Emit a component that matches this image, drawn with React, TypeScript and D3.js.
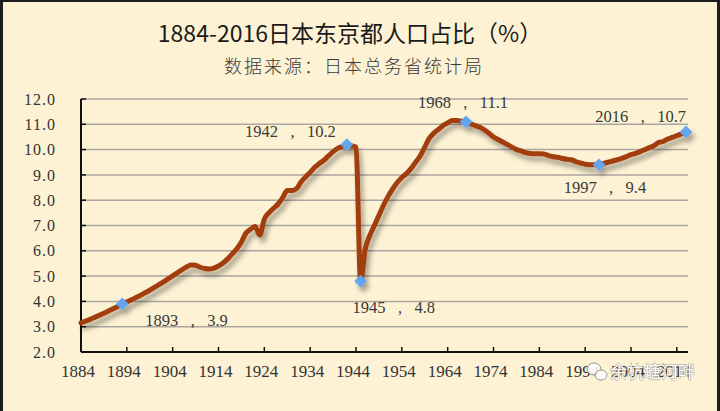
import * as d3 from "d3"

// 东京都人口占全国比例 (%), 1884-2016, one value per year
const years = d3.range(1884, 2017)
const share = [
  3.15, 3.22, 3.29, 3.37, 3.45, 3.53, 3.62, 3.71, 3.8, 3.9, // 1884-1893
  3.98, 4.06, 4.15, 4.24, 4.34, 4.44, 4.55, 4.66, 4.77, 4.89, // 1894-1903
  5.01, 5.13, 5.25, 5.36, 5.44, 5.43, 5.35, 5.3, 5.28, 5.32, // 1904-1913
  5.4, 5.52, 5.68, 5.88, 6.08, 6.35, 6.7, 6.85, 6.96, 6.62, // 1914-1923
  7.25, 7.5, 7.68, 7.85, 8.1, 8.38, 8.38, 8.45, 8.72, 8.92, // 1924-1933
  9.1, 9.3, 9.45, 9.58, 9.75, 9.92, 10.05, 10.12, 10.2, 10.15, // 1934-1943
  10.1, 4.8, 6.05, 6.6, 7.0, 7.4, 7.8, 8.15, 8.45, 8.7, // 1944-1953
  8.9, 9.05, 9.25, 9.5, 9.75, 10.1, 10.45, 10.65, 10.8, 10.95, // 1954-1963
  11.05, 11.15, 11.15, 11.12, 11.1, 11.02, 10.95, 10.88, 10.78, 10.65, // 1964-1973
  10.5, 10.4, 10.3, 10.2, 10.1, 10.0, 9.95, 9.88, 9.85, 9.84, // 1974-1983
  9.84, 9.83, 9.76, 9.72, 9.7, 9.65, 9.62, 9.6, 9.52, 9.47, // 1984-1993
  9.42, 9.4, 9.4, 9.4, 9.45, 9.5, 9.55, 9.6, 9.65, 9.72, // 1994-2003
  9.8, 9.85, 9.92, 10.0, 10.08, 10.15, 10.28, 10.32, 10.42, 10.48, // 2004-2013
  10.55, 10.62, 10.7, // 2014-2016
]

const markedYears = [1893, 1942, 1945, 1968, 1997, 2016]
const markedValues = [3.9, 10.2, 4.8, 11.1, 9.4, 10.7]

const yTicks = [2, 3, 4, 5, 6, 7, 8, 9, 10, 11, 12]
const xTickYears = [1884, 1894, 1904, 1914, 1924, 1934, 1944, 1954, 1964, 1974, 1984, 1994, 2004, 2014]

const title = "1884-2016日本东京都人口占比（%）"
const subtitle = "数据来源：日本总务省统计局"

const W = 720
const H = 411

// label placement relative to each marker: dx, dy, anchor
const labelPlace: Record<number, [number, number, "start" | "middle" | "end"]> = {
  1893: [23, 22, "start"],
  1942: [-11, -8, "end"],
  1945: [-8, 32, "start"],
  1968: [-3, -14, "middle"],
  1997: [6, 28, "middle"],
  2016: [0, -10, "end"],
}

export default function App() {
  const x = d3.scaleLinear().domain([1884, 2016]).range([81, 686])
  const y = d3.scaleLinear().domain([2, 12]).range([352, 99])

  const line = d3
    .line<number>()
    .x((_, i) => x(years[i]))
    .y((d) => y(d))
    .curve(d3.curveMonotoneX)

  const serif = "'Liberation Serif', 'DejaVu Serif', serif"
  const cjk = "'Noto Sans CJK SC', sans-serif"

  return (
    <svg
      width={W}
      height={H}
      viewBox={`0 0 ${W} ${H}`}
      style={{ position: "absolute", left: 0, top: 0 }}
    >
      <defs>
        <filter id="shadow" x="-10%" y="-10%" width="130%" height="140%">
          <feDropShadow dx="3" dy="5" stdDeviation="2.5" floodColor="#000" floodOpacity="0.35" />
        </filter>
      </defs>

      <rect x={0} y={0} width={W} height={H} fill="#fdf2d4" />
      {/* frame */}
      <line x1={1.5} x2={1.5} y1={0} y2={H} stroke="#1c1c1c" strokeWidth={3} />
      <line x1={W - 1.5} x2={W - 1.5} y1={0} y2={H} stroke="#1c1c1c" strokeWidth={3} />
      <line x1={0} x2={W} y1={1} y2={1} stroke="#1c1c1c" strokeWidth={2} />

      <text x={350} y={42} textAnchor="middle" fontFamily={cjk} fontSize={23} fontWeight={400} fill="#1a1a1a">
        {title}
      </text>
      <text x={354} y={73} textAnchor="middle" fontFamily={cjk} fontSize={18} fontWeight={300} letterSpacing={2} fill="#3a3a3a">
        {subtitle}
      </text>

      {/* gridlines */}
      {yTicks.slice(1).map((t) => (
        <line key={t} x1={x(1884)} x2={688} y1={y(t)} y2={y(t)} stroke="#aaa6a0" strokeWidth={1.5} />
      ))}

      {/* axes */}
      <line x1={x(1884)} x2={x(1884)} y1={y(12)} y2={y(2)} stroke="#111" strokeWidth={2} />
      <line x1={x(1884)} x2={688} y1={y(2)} y2={y(2)} stroke="#111" strokeWidth={2} />
      {yTicks.map((t) => (
        <g key={t}>
          <line x1={x(1884)} x2={x(1884) + 5} y1={y(t)} y2={y(t)} stroke="#111" strokeWidth={1.5} />
          <text x={56} y={y(t)} dy="0.35em" textAnchor="end" fontFamily={serif} fontSize={16} letterSpacing={1} fill="#333">
            {t.toFixed(1)}
          </text>
        </g>
      ))}
      {xTickYears.map((yr) => (
        <g key={yr}>
          <line x1={x(yr)} x2={x(yr)} y1={y(2)} y2={y(2) - 5} stroke="#111" strokeWidth={1.5} />
          <text x={x(yr) - 3} y={377} textAnchor="middle" fontFamily={serif} fontSize={17} fill="#333">
            {yr}
          </text>
        </g>
      ))}

      {/* series */}
      <g filter="url(#shadow)">
        <path d={line(share) ?? ""} fill="none" stroke="#a23d0e" strokeWidth={5} strokeLinejoin="round" strokeLinecap="round" />
        {markedYears.map((yr, i) => (
          <rect
            key={yr}
            x={-4.5}
            y={-4.5}
            width={9}
            height={9}
            fill="#63a5ef"
            transform={`translate(${x(yr)},${y(markedValues[i])}) rotate(45)`}
          />
        ))}
      </g>

      {markedYears.map((yr, i) => {
        const [dx, dy, anchor] = labelPlace[yr]
        return (
          <text
            key={yr}
            x={x(yr) + dx}
            y={y(markedValues[i]) + dy}
            textAnchor={anchor}
            fontFamily={serif}
            fontSize={16.5}
            fill="#3a3a3a"
            style={{ whiteSpace: "pre" }}
          >
            {`${yr}   ,   ${markedValues[i].toFixed(1)}`}
          </text>
        )
      })}

      {/* watermark */}
      <g opacity={0.9}>
        <ellipse cx={594} cy={369} rx={7} ry={6} fill="#fff" stroke="#8a8a8a" strokeWidth={1} />
        <ellipse cx={601} cy={375} rx={6} ry={5} fill="#fff" stroke="#8a8a8a" strokeWidth={1} />
        <text
          x={610}
          y={378}
          fontFamily={cjk}
          fontSize={17}
          fill="#ffffff"
          stroke="#8c8c8c"
          strokeWidth={0.8}
          style={{ paintOrder: "stroke" }}
        >
          余杭塘河畔
        </text>
      </g>
    </svg>
  )
}
